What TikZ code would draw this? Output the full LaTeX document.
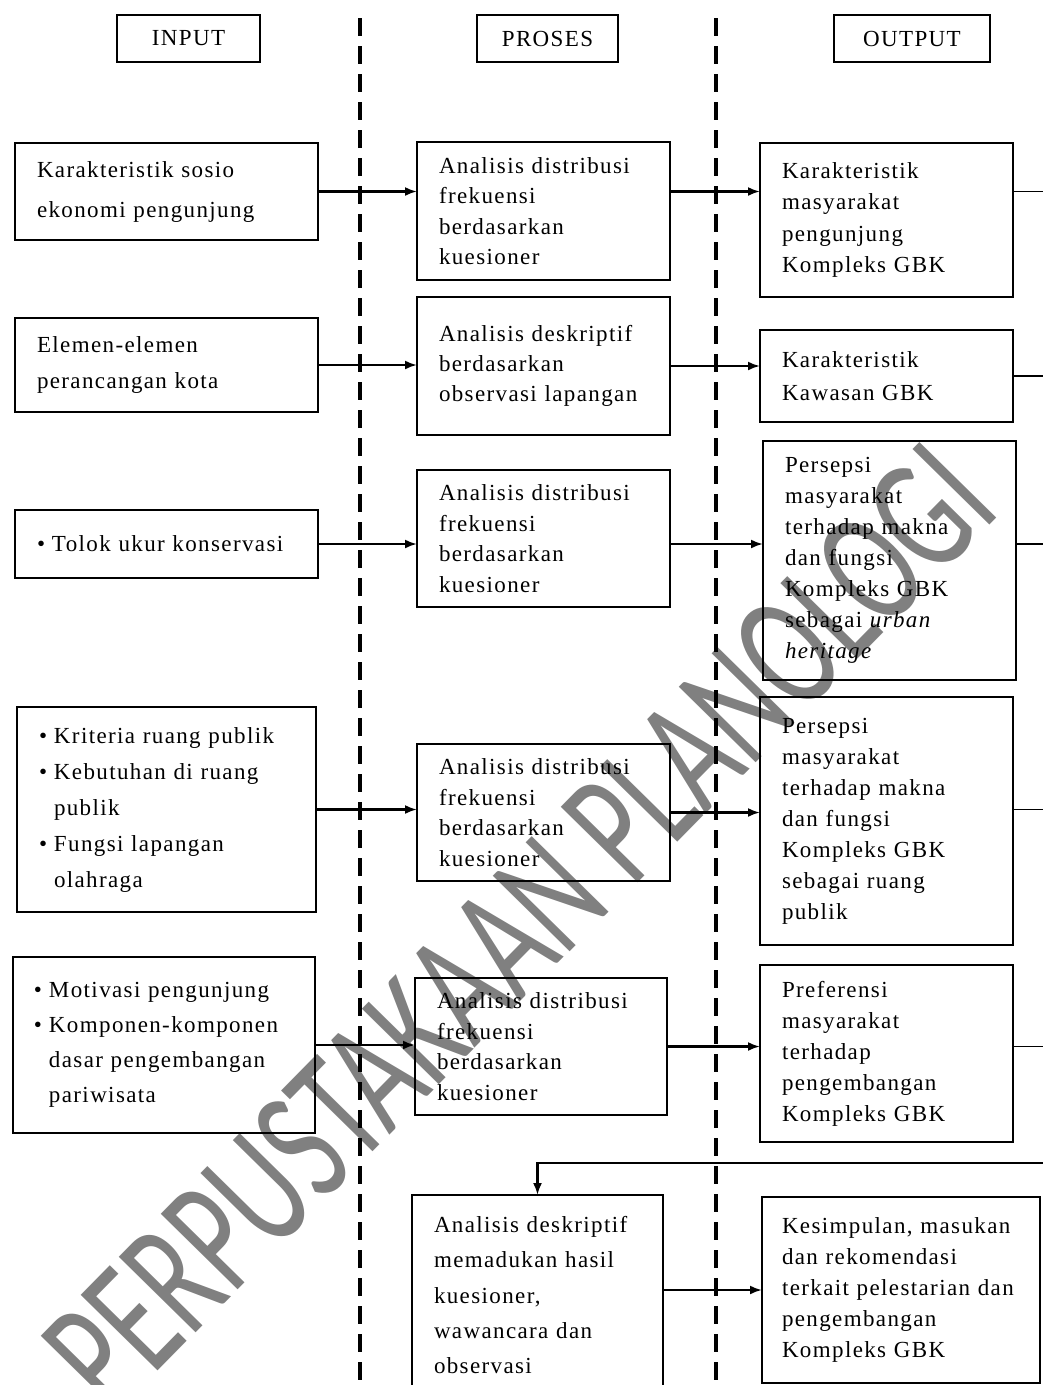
\documentclass[tikz,border=0pt]{standalone}
\usepackage{fontspec}
\setmainfont{Liberation Serif}[LetterSpace=6]
\newfontfamily\stampfont{Carlito}[FakeStretch=0.66]
\usetikzlibrary{arrows.meta,positioning,calc}
\definecolor{stamp}{HTML}{808080}
\newcommand{\itembul}{\makebox[15pt][l]{\textbullet}}
\newcommand{\itemgap}{\hspace*{15pt}}

\begin{document}
\begin{tikzpicture}[x=1pt,y=-1pt,
  box/.style={draw,line width=2.6pt,anchor=north west,align=left,inner xsep=22pt,inner ysep=0pt,outer sep=0pt},
  head/.style={draw,line width=2.2pt,minimum height=47pt,inner sep=0pt,outer sep=0pt,font=\fontsize{23}{28}\selectfont},
  arr/.style={-{Latex[length=12pt,width=9pt]},line width=2.2pt},
  link/.style={line width=1.6pt},
  divider/.style={line width=4pt,dash pattern=on 18pt off 10pt}]
\useasboundingbox (0,0) rectangle (1043,1385);
\node[stamp,anchor=base west,rotate=45.5,inner sep=0pt,font=\stampfont\fontsize{168}{168}\selectfont] (wm) at (112,1418){PERPUSTAKAAN PLANOLOGI};
\draw[divider] (360,18)--(360,1385);\draw[divider] (716,18)--(716,1385);
\node[head,minimum width=143pt] (hin) at (188.5,38.5){INPUT};
\node[head,minimum width=141pt] (hpr) at (547.5,38.5){PROSES};
\node[head,minimum width=156pt] (hout) at (912,38.5){OUTPUT};
% input
\node[box,minimum width=303pt,minimum height=97pt,text width=259pt,font=\fontsize{23}{40}\selectfont] (in1) at (15,143){Karakteristik sosio\\ekonomi pengunjung};
\node[box,minimum width=303pt,minimum height=94pt,text width=259pt,font=\fontsize{23}{36}\selectfont] (in2) at (15,318){Elemen-elemen\\perancangan kota};
\node[box,minimum width=303pt,minimum height=68pt,text width=259pt,font=\fontsize{23}{36}\selectfont] (in3) at (15,510){\itembul Tolok ukur konservasi};
\node[box,minimum width=299pt,minimum height=205pt,text width=255pt,inner xsep=20pt,font=\fontsize{23}{36}\selectfont] (in4) at (17,707){\itembul Kriteria ruang publik\\\itembul Kebutuhan di ruang\\\itemgap publik\\\itembul Fungsi lapangan\\\itemgap olahraga};
\node[box,minimum width=302pt,minimum height=176pt,text width=260pt,inner xsep=21pt,font=\fontsize{23}{35}\selectfont] (in5) at (13,957){\itembul Motivasi pengunjung\\\itembul Komponen-komponen\\\itemgap dasar pengembangan\\\itemgap pariwisata};
% proses
\node[box,minimum width=253pt,minimum height=138pt,text width=209pt,font=\fontsize{23}{30.5}\selectfont] (pr1) at (417,142){Analisis distribusi\\frekuensi\\berdasarkan\\kuesioner};
\node[box,minimum width=253pt,minimum height=138pt,text width=209pt,font=\fontsize{23}{30}\selectfont] (pr2) at (417,297){Analisis deskriptif\\berdasarkan\\observasi lapangan};
\node[box,minimum width=253pt,minimum height=137pt,text width=209pt,font=\fontsize{23}{30.5}\selectfont] (pr3) at (417,470){Analisis distribusi\\frekuensi\\berdasarkan\\kuesioner};
\node[box,minimum width=253pt,minimum height=137pt,text width=209pt,font=\fontsize{23}{30.5}\selectfont] (pr4) at (417,744){Analisis distribusi\\frekuensi\\berdasarkan\\kuesioner};
\node[box,minimum width=252pt,minimum height=137pt,text width=208pt,font=\fontsize{23}{30.5}\selectfont] (pr5) at (415,978){Analisis distribusi\\frekuensi\\berdasarkan\\kuesioner};
\node[box,minimum width=251pt,minimum height=200pt,text width=207pt,font=\fontsize{23}{35.5}\selectfont] (pr6) at (412,1195){Analisis deskriptif\\memadukan hasil\\kuesioner,\\wawancara dan\\observasi};
% output
\node[box,minimum width=253pt,minimum height=154pt,text width=209pt,font=\fontsize{23}{31.5}\selectfont] (out1) at (760,143){Karakteristik\\masyarakat\\pengunjung\\Kompleks GBK};
\node[box,minimum width=253pt,minimum height=92pt,text width=209pt,font=\fontsize{23}{33}\selectfont] (out2) at (760,330){Karakteristik\\Kawasan GBK};
\node[box,minimum width=253pt,minimum height=239pt,text width=209pt,font=\fontsize{23}{31}\selectfont] (out3) at (763,441){Persepsi\\masyarakat\\terhadap makna\\dan fungsi\\Kompleks GBK\\sebagai \textit{urban}\\\textit{heritage}};
\node[box,minimum width=253pt,minimum height=248pt,text width=209pt,font=\fontsize{23}{31}\selectfont] (out4) at (760,697){Persepsi\\masyarakat\\terhadap makna\\dan fungsi\\Kompleks GBK\\sebagai ruang\\publik};
\node[box,minimum width=253pt,minimum height=177pt,text width=209pt,font=\fontsize{23}{31}\selectfont] (out5) at (760,965){Preferensi\\masyarakat\\terhadap\\pengembangan\\Kompleks GBK};
\node[box,minimum width=278pt,minimum height=186pt,text width=238pt,inner xsep=20pt,font=\fontsize{23}{31}\selectfont] (out6) at (762,1197){Kesimpulan, masukan\\dan rekomendasi\\terkait pelestarian dan\\pengembangan\\Kompleks GBK};
% connectors
\coordinate (rim) at (1043,0);\coordinate (back) at (1043,1163);
\draw[arr] (in1.east)--(in1.east-|pr1.west);
\draw[arr] (in2.east)--(in2.east-|pr2.west);
\draw[arr] (in3.east)--(in3.east-|pr3.west);
\draw[arr] (in4.east)--(in4.east-|pr4.west);
\draw[arr] (in5.east)--(in5.east-|pr5.west);
\draw[arr] (pr1.east|-in1.east)--(out1.west|-in1.east);
\draw[arr] (pr2.east)--(pr2.east-|out2.west);
\draw[arr] (pr3.east|-in3.east)--(out3.west|-in3.east);
\draw[arr] (pr4.east)--(pr4.east-|out4.west);
\draw[arr] (pr5.east)--(pr5.east-|out5.west);
\draw[arr] (out6.west-|pr6.east)--(out6.west);
\draw[link] (out1.east|-in1.east)--(rim|-in1.east);
\draw[link] (out2.east)--(rim|-out2.east);
\draw[link] (out3.east|-in3.east)--(rim|-in3.east);
\draw[link] (out4.east|-in4.east)--(rim|-in4.east);
\draw[link] (out5.east|-pr5.east)--(rim|-pr5.east);
\draw[arr] (back)-|(pr6.north);
\end{tikzpicture}
\end{document}
